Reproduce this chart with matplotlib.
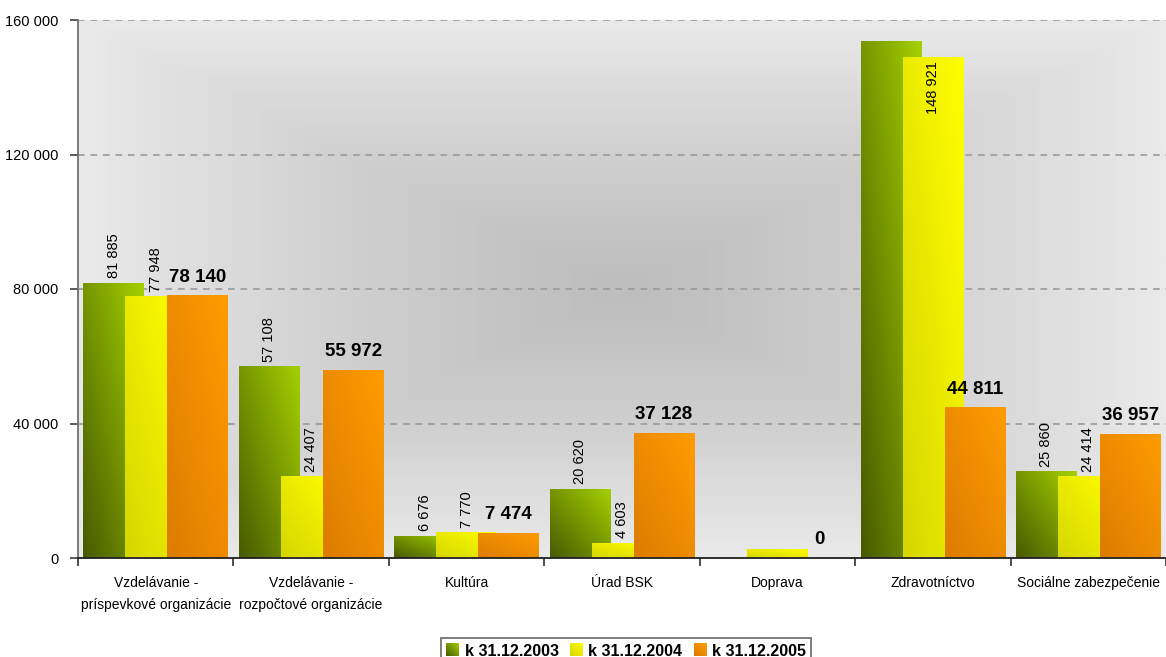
import numpy as np
import matplotlib
matplotlib.use("Agg")
import matplotlib.pyplot as plt
from matplotlib import font_manager
from matplotlib.ticker import FuncFormatter, FixedLocator
from matplotlib.patches import Patch
from matplotlib.legend_handler import HandlerBase
from matplotlib.image import BboxImage
from matplotlib.transforms import Bbox, TransformedBbox

# ---------------- data ----------------
categories = ["Vzdelávanie -\npríspevkové organizácie",
              "Vzdelávanie -\nrozpočtové organizácie",
              "Kultúra", "Úrad BSK", "Doprava", "Zdravotníctvo",
              "Sociálne zabezpečenie"]
series_names = ["k 31.12.2003", "k 31.12.2004", "k 31.12.2005"]
v2003 = [81885, 57108, 6676, 20620, 0, 153800, 25860]
v2004 = [77948, 24407, 7770, 4603, 2700, 148921, 24414]
v2005 = [78140, 55972, 7474, 37128, 0, 44811, 36957]
show2003 = [True, True, True, True, False, False, True]
show2004 = [True, True, True, True, False, True, True]
show2005 = [True, True, True, True, True, True, True]
yticks = [0, 40000, 80000, 120000, 160000]

# ---------------- fonts ----------------
def have(name):
    try:
        font_manager.findfont(font_manager.FontProperties(family=name),
                              fallback_to_default=False)
        return True
    except Exception:
        return False

if have("Liberation Sans Narrow"):
    FAM = ["Liberation Sans Narrow", "DejaVu Sans"]
    s_tick, s_xlab, s_rot, s_bold, s_leg = 12, 12, 12, 16, 14
else:
    FAM = ["Liberation Sans", "DejaVu Sans"]
    s_tick, s_xlab, s_rot, s_bold, s_leg = 10.5, 10, 10.5, 13.5, 11.5
plt.rcParams["font.family"] = FAM

fmt = lambda v: f"{int(round(v)):,}".replace(",", " ")

# ---------------- figure ----------------
fig = plt.figure(figsize=(11.66, 6.57), dpi=100)
ax = fig.add_axes([78 / 1166, 99 / 657, 1 - 78 / 1166, (558 - 20) / 657])

n = len(categories)
x = np.arange(n)
ymax = yticks[-1]
ax.set_xlim(-0.5, n - 0.5)
ax.set_ylim(0, ymax)

# background: rectangular gradient darker in centre
ny, nx = 200, 300
u = np.linspace(-1, 1, nx)[None, :]
v = np.linspace(-1, 1, ny)[:, None]
t = np.maximum(np.abs(u) * np.ones_like(v), np.abs(v) * np.ones_like(u))
t = np.clip(t, 0, 1) ** 1.3
g = (190 + (234 - 190) * t) / 255.0
bg = np.dstack([g, g, g])
ax.imshow(bg, extent=[-0.5, n - 0.5, 0, ymax], aspect="auto",
          zorder=0, interpolation="bilinear")

# grid
for yv in yticks[1:]:
    ax.axhline(yv, color="#9a9a9a", lw=1.2, ls=(0, (4, 3.5)), zorder=1)

width = 0.39
step = 0.27
grad_cols = [((0x48, 0x5a, 0x00), (0xa4, 0xd0, 0x00)),
             ((0xd6, 0xd6, 0x00), (0xff, 0xff, 0x00)),
             ((0xdc, 0x7c, 0x00), (0xff, 0x9c, 0x00))]
legend_cols = ["#6f9400", "#eded00", "#f08c00"]

gx, gy = 40, 40
uu = np.linspace(0, 1, gx)[None, :]
vv = np.linspace(0, 1, gy)[:, None]
tt = (uu + (1 - vv)) / 2.0  # image row 0 is top

def grad_img(c0, c1):
    c0 = np.array(c0) / 255.0
    c1 = np.array(c1) / 255.0
    return c0[None, None, :] * (1 - tt[..., None]) + c1[None, None, :] * tt[..., None]

all_vals = [v2003, v2004, v2005]
for k, vals in enumerate(all_vals):
    offs = (k - 1) * step
    bars = ax.bar(x + offs, vals, width=width, color=legend_cols[k],
                  zorder=2 + k, linewidth=0)
    img = grad_img(*grad_cols[k])
    for b in bars:
        h = b.get_height()
        if h <= 0:
            continue
        x0 = b.get_x()
        im = ax.imshow(img, extent=[x0, x0 + b.get_width(), 0, h],
                       aspect="auto", zorder=2 + k, interpolation="bilinear")
        im.set_clip_path(b)

ax.set_xlim(-0.5, n - 0.5)
ax.set_ylim(0, ymax)

# labels
for k, (vals, show) in enumerate(zip(all_vals, [show2003, show2004, show2005])):
    offs = (k - 1) * step
    for i, (val, s) in enumerate(zip(vals, show)):
        if not s:
            continue
        if k < 2:
            inside = val > 0.88 * ymax
            ax.annotate(fmt(val), (x[i] + offs, val),
                        xytext=(0, -3 if inside else 3),
                        textcoords="offset points", rotation=90,
                        ha="center", va="top" if inside else "bottom",
                        fontsize=s_rot, color="black", zorder=10)
        else:
            ax.annotate(fmt(val), (x[i] + offs, val), xytext=(0, 7),
                        textcoords="offset points", ha="center",
                        va="bottom", fontsize=s_bold, fontweight="bold",
                        color="black", zorder=10)

# axes styling
for sp in ["top", "right"]:
    ax.spines[sp].set_visible(False)
ax.spines["left"].set_color("#707070")
ax.spines["left"].set_linewidth(1.3)
ax.spines["bottom"].set_color("#202020")
ax.spines["bottom"].set_linewidth(1.3)
ax.spines["left"].set_zorder(6)
ax.spines["bottom"].set_zorder(6)

ax.set_yticks(yticks)
ax.yaxis.set_major_formatter(FuncFormatter(lambda v, p: fmt(v)))
ax.tick_params(axis="y", direction="out", length=6, width=1.2,
               color="#404040", pad=8, labelsize=s_tick)

ax.xaxis.set_major_locator(FixedLocator(np.arange(-0.5, n, 1.0)))
ax.xaxis.set_minor_locator(FixedLocator(x))
ax.tick_params(axis="x", which="major", direction="out", length=6,
               width=1.2, color="#303030", labelbottom=False)
ax.tick_params(axis="x", which="minor", length=0, pad=13, labelsize=s_xlab)
ax.set_xticks(x, minor=True)
ax.set_xticklabels(categories, minor=True, linespacing=1.7)


# legend with gradient squares
class GradHandler(HandlerBase):
    def __init__(self, img):
        super().__init__()
        self.img = img

    def create_artists(self, legend, orig_handle, xdescent, ydescent,
                       width, height, fontsize, trans):
        bb = Bbox.from_bounds(-xdescent, -ydescent, width, height)
        tbb = TransformedBbox(bb, trans)
        bi = BboxImage(tbb, interpolation="bilinear")
        bi.set_data(self.img)
        return [bi]


handles = [Patch(facecolor=c, edgecolor="none") for c in legend_cols]
hmap = {h: GradHandler(grad_img(*grad_cols[k])) for k, h in enumerate(handles)}
leg = fig.legend(handles, series_names, loc="upper center",
                 bbox_to_anchor=(0.537, 1 - 630 / 657), ncol=3,
                 frameon=True, fancybox=False, edgecolor="#505050",
                 handlelength=0.8, handleheight=0.8, handletextpad=0.35,
                 columnspacing=0.7, borderpad=0.35, handler_map=hmap,
                 prop={"size": s_leg, "weight": "bold"})
leg.get_frame().set_linewidth(1.3)

fig.savefig("out.png", dpi=100)
